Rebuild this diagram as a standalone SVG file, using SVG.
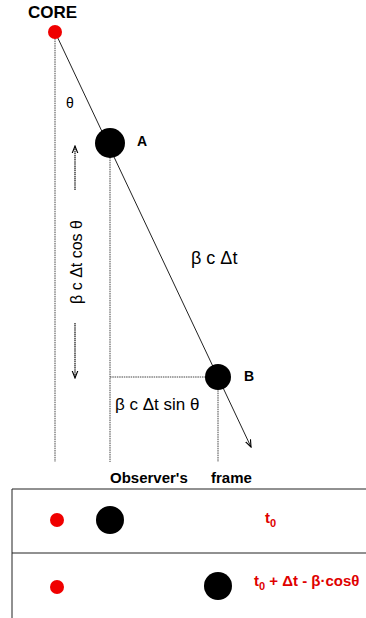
<svg xmlns="http://www.w3.org/2000/svg" width="366" height="618" viewBox="0 0 366 618">
<style>
text{font-family:"Liberation Sans",Arial,sans-serif;fill:#000}
.b{font-weight:bold}
.red{fill:#e00000;font-weight:bold;font-size:15px}
.dot{stroke:#444;stroke-width:1;stroke-dasharray:1.5 0.8;fill:none}
.ln{stroke:#222;stroke-width:1;fill:none}
.arr{stroke:#111;stroke-width:1.2;stroke-dasharray:1.5 0.6;fill:none}
</style>
<defs>
<marker id="ah" viewBox="0 0 10 10" refX="9" refY="5" markerWidth="8" markerHeight="8" orient="auto-start-reverse" markerUnits="userSpaceOnUse">
<path d="M0,1.5 L9,5 L0,8.5" fill="none" stroke="#000" stroke-width="1.4"/>
</marker>
</defs>
<rect width="366" height="618" fill="#fff"/>
<g id="connectors">
<line class="dot" x1="55" y1="36" x2="55" y2="462"/>
<line class="dot" x1="110" y1="155" x2="110" y2="462"/>
<line class="dot" x1="218" y1="388" x2="218" y2="462"/>
<line class="dot" x1="110" y1="377" x2="206" y2="377"/>
<line class="ln" x1="55" y1="32" x2="251" y2="447" marker-end="url(#ah)"/>
<line class="arr" x1="75" y1="190" x2="75" y2="146" marker-end="url(#ah)"/>
<line class="arr" x1="75" y1="323" x2="75" y2="378" marker-end="url(#ah)"/>
</g>
<g id="core">
<circle cx="55" cy="32" r="7" fill="#f00000"/>
<text x="28" y="18" class="b" font-size="17">CORE</text>
</g>
<g id="nodeA">
<circle cx="110" cy="143" r="15" fill="#000"/>
<text x="137" y="146" class="b" font-size="14">A</text>
</g>
<g id="nodeB">
<circle cx="218" cy="377" r="13" fill="#000"/>
<text x="244" y="381" class="b" font-size="14">B</text>
</g>
<g id="labels">
<text x="66" y="108" font-size="14">θ</text>
<text x="191" y="264" font-size="18">β c Δt</text>
<text x="115" y="410" font-size="17">β c Δt sin θ</text>
<text transform="translate(82,262) rotate(-90)" text-anchor="middle" font-size="16">β c Δt cos θ</text>
<text x="110" y="483" class="b" font-size="15" fill="#222">Observer's</text>
<text x="211" y="483" class="b" font-size="15" fill="#222">frame</text>
</g>
<g id="frame">
<polyline class="ln" points="366,489 12,489 12,618" stroke="#333"/>
<line class="ln" x1="12" y1="553" x2="366" y2="553" stroke="#333"/>
</g>
<g id="row1">
<circle cx="57" cy="520" r="7" fill="#f00000"/>
<circle cx="110" cy="520" r="14" fill="#000"/>
<text x="265" y="523" class="red">t<tspan font-size="11" dy="4">0</tspan></text>
</g>
<g id="row2">
<circle cx="57" cy="587" r="7" fill="#f00000"/>
<circle cx="218" cy="586" r="14" fill="#000"/>
<text x="254" y="586" class="red">t<tspan font-size="11" dy="4">0</tspan><tspan dy="-4"> + Δt - β·cosθ</tspan></text>
</g>
</svg>
